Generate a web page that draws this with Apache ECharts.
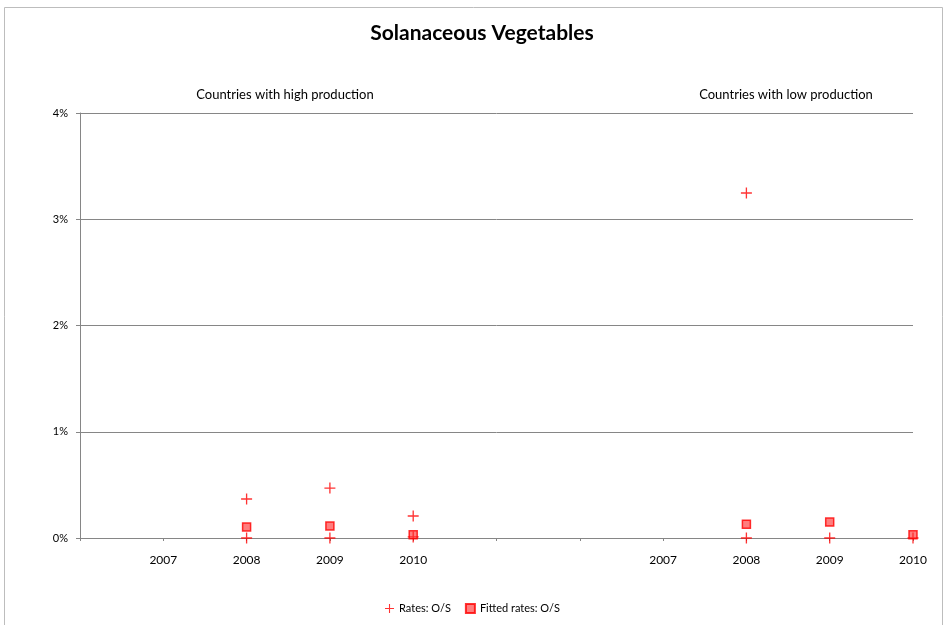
<!DOCTYPE html>
<html>
<head>
<meta charset="utf-8">
<script src="https://cdn.jsdelivr.net/npm/echarts@6/dist/echarts.min.js"></script>
<style>
  html, body { margin: 0; padding: 0; background: #fff; }
  #chart { width: 945px; height: 625px; }
</style>
</head>
<body>
<div id="chart"></div>
<script>
// category slots, two groups of years with a gap between them
const categories = ['', '2007', '2008', '2009', '2010', '', '', '2007', '2008', '2009', '2010'];
const yTicks = [0, 1, 2, 3, 4];

// Rates: O/S (slot index, value in %)
const rateSlots = [2, 2, 3, 3, 4, 4, 8, 8, 9, 10];
const rateValues = [0.367, 0, 0.47, 0, 0.207, 0.01, 3.247, 0, 0, 0];

// Fitted rates: O/S
const fittedSlots = [2, 3, 4, 8, 9, 10];
const fittedValues = [0.104, 0.113, 0.03, 0.13, 0.15, 0.03];

const plusPath = 'path://M4.4,0h1.2v10h-1.2z M0,4.4h10v1.2h-10z';
const font = 'Lato, "Open Sans", sans-serif';

var myChart = echarts.init(document.getElementById('chart'));
let option = {
  animation: false,
  backgroundColor: '#fff',
  textStyle: { fontFamily: font },
  graphic: [
    {
      type: 'rect',
      shape: { x: 4.5, y: 7.5, width: 938, height: 640 },
      style: { fill: 'none', stroke: '#bdbdbd', lineWidth: 1 },
      silent: true
    },
    {
      type: 'text', x: 482, y: 33,
      style: { text: 'Solanaceous Vegetables', font: 'bold 21px ' + font, fill: '#000', textAlign: 'center', textVerticalAlign: 'middle' }
    },
    {
      type: 'text', x: 285, y: 95,
      style: { text: 'Countries with high production', font: '13px ' + font, fill: '#000', textAlign: 'center', textVerticalAlign: 'middle' }
    },
    {
      type: 'text', x: 786, y: 95,
      style: { text: 'Countries with low production', font: '13px ' + font, fill: '#000', textAlign: 'center', textVerticalAlign: 'middle' }
    }
  ],
  legend: {
    bottom: 6,
    left: 'center',
    itemWidth: 9,
    itemHeight: 9,
    itemGap: 14,
    textStyle: { fontSize: 11, color: '#000', fontFamily: font },
    data: ['Rates: O/S', 'Fitted rates: O/S']
  },
  grid: { left: 80, right: 32, top: 113, bottom: 87 },
  xAxis: {
    type: 'category',
    data: categories,
    boundaryGap: false,
    axisLine: { lineStyle: { color: '#868686' } },
    axisTick: { show: true, length: 3, inside: false, alignWithLabel: true, lineStyle: { color: '#868686' } },
    axisLabel: { color: '#000', fontSize: 12, margin: 16, interval: 0, fontFamily: font },
    splitLine: { show: false }
  },
  yAxis: {
    type: 'value',
    min: yTicks[0],
    max: yTicks[yTicks.length - 1],
    interval: 1,
    axisLine: { show: true, lineStyle: { color: '#868686' } },
    axisTick: { show: true, length: 4, lineStyle: { color: '#868686' } },
    axisLabel: { color: '#000', fontSize: 11, margin: 12, formatter: '{value}%', fontFamily: font },
    splitLine: { lineStyle: { color: '#868686' } }
  },
  series: [
    {
      name: 'Rates: O/S',
      type: 'scatter',
      symbol: plusPath,
      symbolSize: 11,
      itemStyle: { color: '#ff0000' },
      data: rateSlots.map((s, i) => [s, rateValues[i]]),
      z: 3
    },
    {
      name: 'Fitted rates: O/S',
      type: 'scatter',
      symbol: 'rect',
      symbolSize: 8,
      itemStyle: { color: 'rgba(255,40,40,0.75)', borderColor: '#ff0000', borderWidth: 1.5 },
      data: fittedSlots.map((s, i) => [s, fittedValues[i]]),
      z: 4
    }
  ]
};
myChart.setOption(option);
</script>
</body>
</html>
